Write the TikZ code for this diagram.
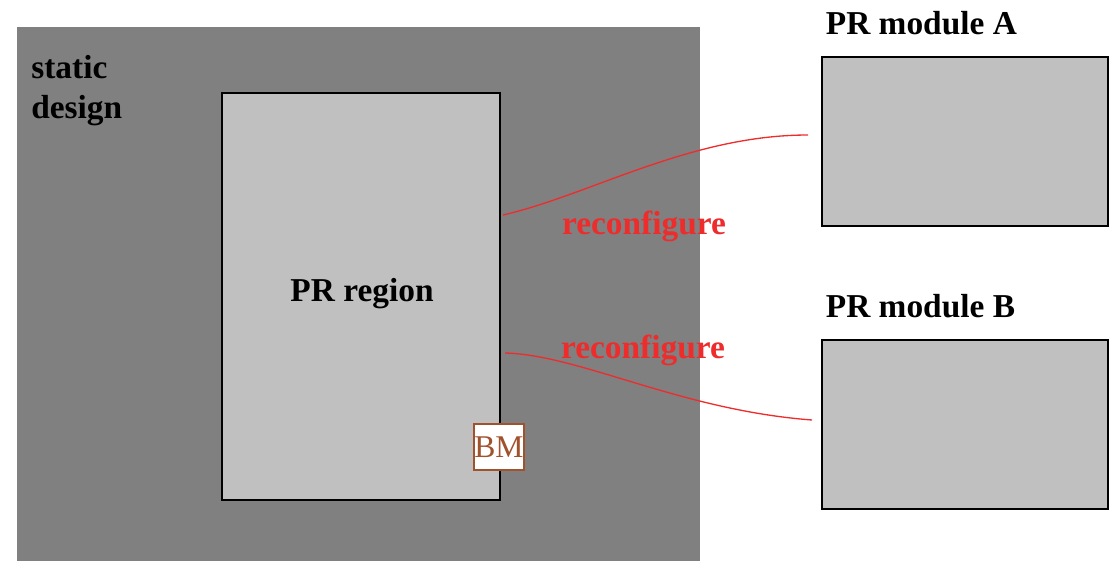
\documentclass[tikz,border=0pt]{standalone}
\usepackage{fontspec}
\setmainfont{Liberation Serif}
\usetikzlibrary{positioning}

\definecolor{staticgray}{HTML}{808080}
\definecolor{boxgray}{HTML}{C0C0C0}
\definecolor{cfgred}{HTML}{EE2C2C}
\definecolor{bmbrown}{HTML}{A0522D}

\tikzset{
  box/.style={draw=black,line width=0.8pt,fill=boxgray,inner sep=0pt,outer sep=0pt},
  bigtext/.style={font=\fontsize{19}{23}\selectfont\bfseries},
  cfg/.style={font=\fontsize{19}{23}\selectfont\bfseries,text=cfgred},
  wire/.style={draw=cfgred,line width=0.75pt}
}

\begin{document}
\begin{tikzpicture}[x=0.02cm,y=-0.02cm]
    \useasboundingbox (0,0) rectangle (1113,561);
    % the static part of the design
    \node[fill=staticgray,inner sep=0pt,minimum width=13.66cm,minimum height=10.68cm] (static) at (358.5,294) {};
    \node[bigtext,align=left,anchor=north west,inner sep=0pt] (staticlbl) at (31,55) {static\\design};

    % the reconfigurable region and its bus macro
    \node[box,minimum width=5.56cm,minimum height=8.14cm] (region) at (361,296.5) {};
    \node[bigtext] (regionlbl) at (362,294) {PR region};
    \node[draw=bmbrown,fill=white,line width=0.8pt,inner sep=0pt,minimum width=1cm,minimum height=0.92cm,
          font=\fontsize{18}{20}\selectfont,text=bmbrown] (bm) at (499,447) {BM};

    % the modules that can be loaded
    \foreach \m/\y in {A/141.5, B/424.5}{
      \node[box,minimum width=5.72cm,minimum height=3.38cm] (mod\m) at (965,\y) {};
      \node[bigtext,above=12.5pt of mod\m.north west,anchor=south west,inner sep=0pt,xshift=2pt] (mod\m lbl) {PR module \m};
    }

    % connectors
    \coordinate (rA) at (503,215);
    \coordinate (mA) at (808,135);
    \coordinate (rB) at (505,353);
    \coordinate (mB) at (812,420);
    \draw[wire] (rA) .. controls (590,195) and (690,135) .. (mA);
    \draw[wire] (rB) .. controls (580,355) and (680,410) .. (mB);
    \node[cfg] (cfgA) at (644,226) {reconfigure};
    \node[cfg] (cfgB) at (643,350) {reconfigure};
\end{tikzpicture}
\end{document}
